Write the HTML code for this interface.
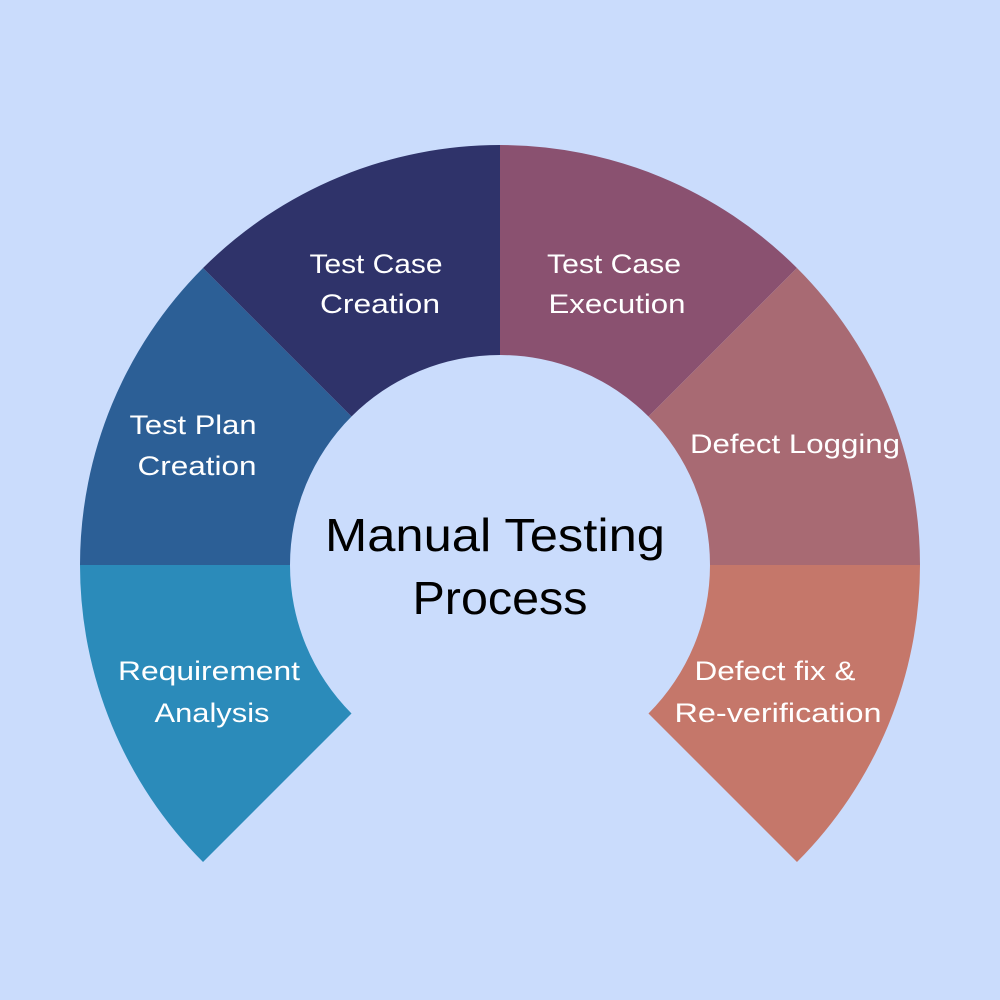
<!DOCTYPE html>
<html><head><meta charset="utf-8"><style>html,body{margin:0;padding:0;background:#CADCFC}svg{display:block}</style></head>
<body>
<svg width="1000" height="1000" viewBox="0 0 1000 1000" xmlns="http://www.w3.org/2000/svg">
<rect width="1000" height="1000" fill="#CADCFC"/>
<path d="M203.02,861.98 A420,420 0 0 1 80,565 L290,565 A210,210 0 0 0 351.51,713.49 Z" fill="#2B8BBA"/>
<path d="M80,565 A420,420 0 0 1 203.02,268.02 L351.51,416.51 A210,210 0 0 0 290,565 Z" fill="#2C5F96"/>
<path d="M203.02,268.02 A420,420 0 0 1 500,145 L500,355 A210,210 0 0 0 351.51,416.51 Z" fill="#2F336A"/>
<path d="M500,145 A420,420 0 0 1 796.98,268.02 L648.49,416.51 A210,210 0 0 0 500,355 Z" fill="#8A5170"/>
<path d="M796.98,268.02 A420,420 0 0 1 920,565 L710,565 A210,210 0 0 0 648.49,416.51 Z" fill="#A86A73"/>
<path d="M920,565 A420,420 0 0 1 796.98,861.98 L648.49,713.49 A210,210 0 0 0 710,565 Z" fill="#C5776A"/>
<g font-family="Liberation Sans, sans-serif" font-size="27" fill="#fff" text-anchor="middle">
<text x="376" y="273" textLength="133" lengthAdjust="spacingAndGlyphs">Test Case</text>
<text x="380" y="313" textLength="120" lengthAdjust="spacingAndGlyphs">Creation</text>
<text x="193" y="434" textLength="127" lengthAdjust="spacingAndGlyphs">Test Plan</text>
<text x="197" y="475" textLength="119" lengthAdjust="spacingAndGlyphs">Creation</text>
<text x="209" y="680" textLength="182" lengthAdjust="spacingAndGlyphs">Requirement</text>
<text x="212" y="722" textLength="115" lengthAdjust="spacingAndGlyphs">Analysis</text>
<text x="614" y="273" textLength="134" lengthAdjust="spacingAndGlyphs">Test Case</text>
<text x="617" y="313" textLength="137" lengthAdjust="spacingAndGlyphs">Execution</text>
<text x="795" y="453" textLength="210" lengthAdjust="spacingAndGlyphs">Defect Logging</text>
<text x="775" y="680" textLength="161" lengthAdjust="spacingAndGlyphs">Defect fix &amp;</text>
<text x="778" y="722" textLength="207" lengthAdjust="spacingAndGlyphs">Re-verification</text>
</g>
<g font-family="Liberation Sans, sans-serif" font-size="46" fill="#000" text-anchor="middle">
<text x="495" y="551" textLength="340" lengthAdjust="spacingAndGlyphs">Manual Testing</text>
<text x="500" y="614" textLength="175" lengthAdjust="spacingAndGlyphs">Process</text>
</g>
</svg>
</body></html>
